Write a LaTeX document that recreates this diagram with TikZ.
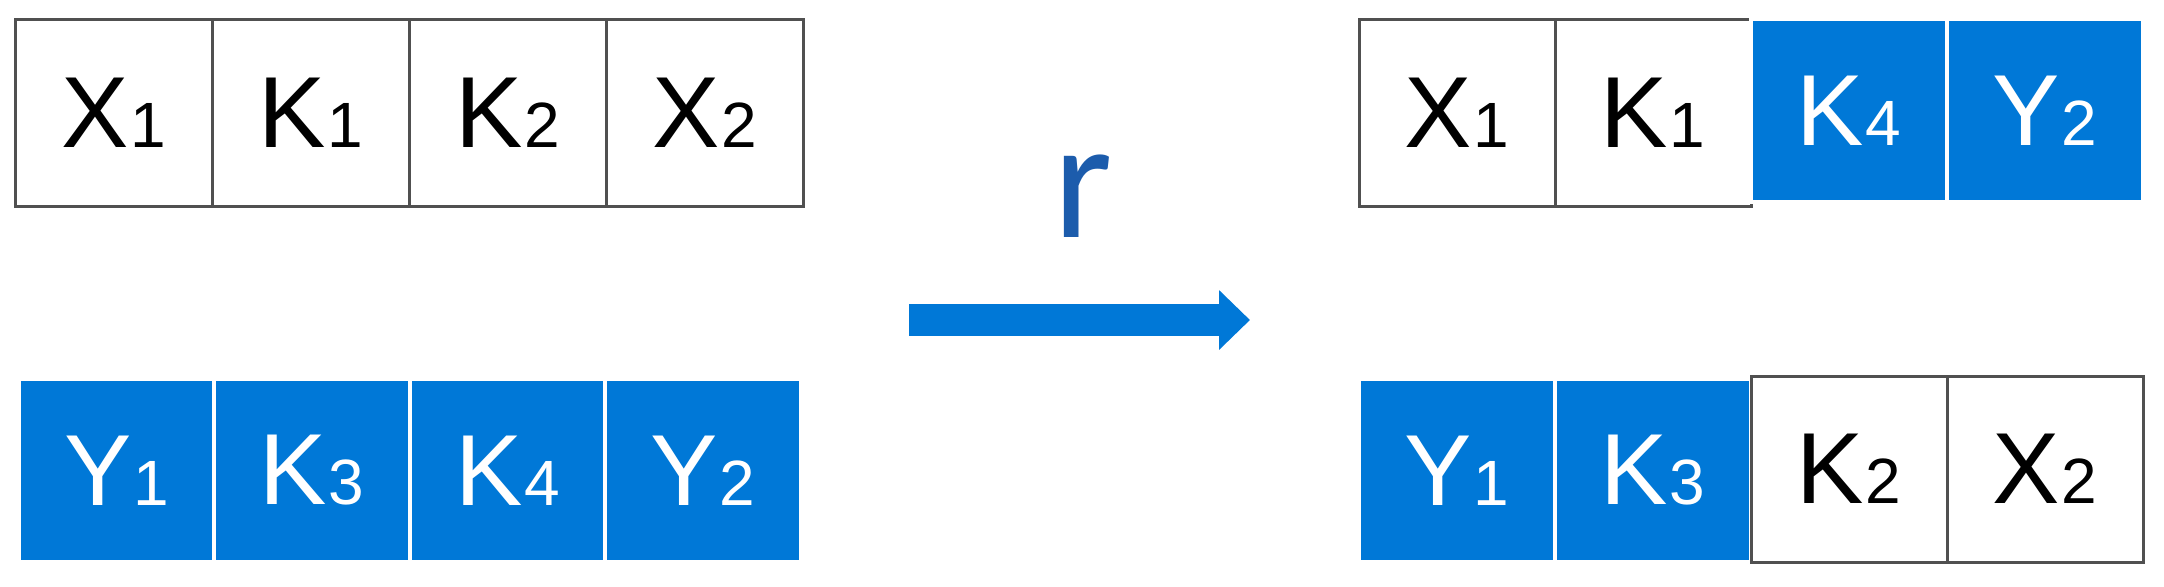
\documentclass[tikz,border=0pt]{standalone}
\usepackage{fontspec}
\setmainfont{Liberation Sans}
\newfontfamily\rfont{Carlito}
\usetikzlibrary{arrows.meta}
\definecolor{cellblue}{RGB}{0,120,215}
\definecolor{rblue}{RGB}{28,92,172}
\definecolor{edgegray}{RGB}{80,80,80}
\newcommand{\lab}[2]{#1\kern1pt{\fontsize{32}{32}\selectfont #2}}
\begin{document}
\begin{tikzpicture}[x=0.5pt,y=-0.5pt,
  cellfont/.style={font=\fontsize{50.5}{60}\selectfont},
  wcell/.style={cellfont, draw=edgegray, line width=1.5pt, fill=white, text=black,
    inner sep=0pt, minimum width=98pt, minimum height=93.5pt},
  bcell/.style={cellfont, draw=white, line width=2pt, fill=cellblue, text=white,
    inner sep=0pt, minimum width=98pt, minimum height=91.5pt},
  bigarrow/.style={cellblue, line width=16pt, -{Triangle[length=15.5pt,width=29pt]}}]
\useasboundingbox (0,0) rectangle (2164,586);
% top-left row
\node[wcell, minimum width=98.5pt] (tl1) at (113.5,112.5) {\lab{X}{1}};
\node[wcell, minimum width=98.5pt] (tl2) at (310.5,112.5) {\lab{K}{1}};
\node[wcell, minimum width=98.5pt] (tl3) at (507.5,112.5) {\lab{K}{2}};
\node[wcell, minimum width=98.5pt] (tl4) at (704.5,112.5) {\lab{X}{2}};
% bottom-left row
\node[bcell, minimum width=97.75pt] (bl1) at (116.5,470.5) {\lab{Y}{1}};
\node[bcell, minimum width=97.75pt] (bl2) at (312,470.5) {\lab{K}{3}};
\node[bcell, minimum width=97.75pt] (bl3) at (507.5,470.5) {\lab{K}{4}};
\node[bcell, minimum width=97.75pt] (bl4) at (703,470.5) {\lab{Y}{2}};
% arrow and label
\coordinate (arrS) at (909,320);
\coordinate (arrE) at (1250,320);
\draw[bigarrow] (arrS) -- (arrE);
\node[font=\rfont\fontsize{85}{90}\selectfont, text=rblue, anchor=base, inner sep=0pt] (r) at (1083,237) {r};
% top-right row
\node[wcell] (tr1) at (1457,112.5) {\lab{X}{1}};
\node[wcell] (tr2) at (1653,112.5) {\lab{K}{1}};
\node[bcell] (tr3) at (1849,110.5) {\lab{K}{4}};
\node[bcell] (tr4) at (2045,110.5) {\lab{Y}{2}};
% bottom-right row
\node[bcell] (br1) at (1457,470.5) {\lab{Y}{1}};
\node[bcell] (br2) at (1653,470.5) {\lab{K}{3}};
\node[wcell, minimum height=93pt] (br3) at (1849,469) {\lab{K}{2}};
\node[wcell, minimum height=93pt] (br4) at (2045,469) {\lab{X}{2}};
\end{tikzpicture}
\end{document}
